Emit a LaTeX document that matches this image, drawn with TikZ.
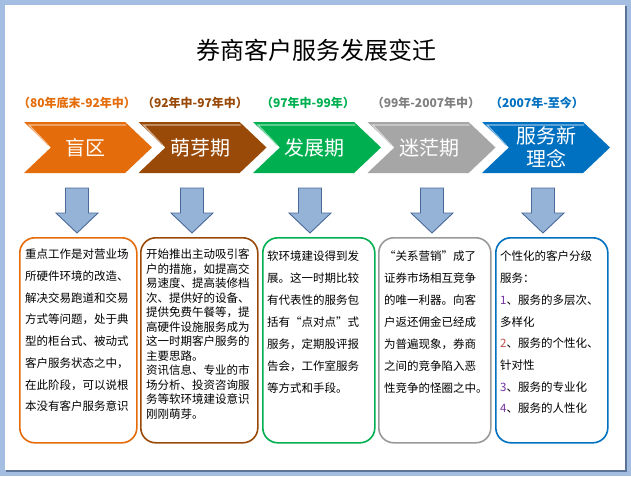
\documentclass[tikz,border=0pt]{standalone}
\usepackage{fontspec}
\setmainfont{Noto Sans CJK SC}
\usetikzlibrary{shapes.symbols}
\definecolor{orangeC}{HTML}{E46C0A}
\definecolor{brownC}{HTML}{9A4A08}
\definecolor{greenC}{HTML}{00B050}
\definecolor{grayC}{HTML}{A6A6A6}
\definecolor{grayL}{HTML}{808080}
\definecolor{blueC}{HTML}{0070C0}
\definecolor{arrowFill}{HTML}{95B3D7}
\definecolor{arrowLine}{HTML}{4A6A9A}
\definecolor{frameBlue}{HTML}{A3BEE0}
\definecolor{frameShade}{HTML}{5C7398}
\definecolor{numPurple}{HTML}{7030A0}
\definecolor{numOrange}{HTML}{C0504D}
\newcommand{\downblock}[1]{%
	\draw [ downarrow ] ({#1-11.5},188) -- ({#1+11.5},188) -- ({#1+11.5},213)
	-- ({#1+21},213) -- (#1,233) -- ({#1-21},213) -- ({#1-11.5},213) -- cycle;}
\newcommand{\bevel}[2]{%
	\draw [ #2!45!white, line width=1.2pt ] ({#1-40},145) -- ({#1-59},125)
	-- ({#1+38},125);}
\tikzset{
	chevron/.style = { signal, signal from=west, signal to=east,
		signal pointer angle=87, minimum width=128pt, minimum height=51pt,
		inner sep=0pt, fill=#1, text=white, align=center,
		font=\fontsize{20}{23}\selectfont },
	period/.style = { text=#1, inner sep=0pt,
		font=\bfseries\fontsize{12}{14}\selectfont },
	infobox/.style = { draw=#1, line width=1.6pt, rounded corners=15pt,
		minimum height=205pt, anchor=north west, inner sep=0pt },
	infotext/.style = { anchor=north west, align=left, inner sep=0pt,
		font=\fontsize{11.5}{21.7}\selectfont },
	downarrow/.style = { fill=arrowFill, draw=arrowLine, line width=0.9pt },
}

\begin{document}
\begin{tikzpicture}[x=1pt, y=-1pt]
	% slide frame
	\fill [ frameBlue ] (0,0) rectangle (631,476);
	\fill [ frameShade ] (6,6) rectangle (627,472);
	\fill [ white ] (5,5) rectangle (625,470);
	\useasboundingbox (0,0) rectangle (631,476);

	\node (title) at (316,50)
	{ \fontsize{24}{28}\selectfont 券商客户服务发展变迁 };

	% periods
	\node [ period=orangeC ] (p1) at (77,103) { （80年底末-92年中） };
	\node [ period=brownC ] (p2) at (195,103) { （92年中-97年中） };
	\node [ period=greenC ] (p3) at (308,103) { （97年中-99年） };
	\node [ period=grayL ] (p4) at (426,103) { （99年-2007年中） };
	\node [ period=blueC ] (p5) at (537,103) { （2007年-至今） };

	% stages
	\node [ chevron=orangeC ] (s1) at (88,147.5) { 盲区 };
	\node [ chevron=brownC ] (s2) at (202.5,147.5) { 萌芽期 };
	\node [ chevron=greenC ] (s3) at (317,147.5) { 发展期 };
	\node [ chevron=grayC ] (s4) at (431.5,147.5) { 迷茫期 };
	\node [ chevron=blueC ] (s5) at (546,147.5) { 服务新\\理念 };
	\bevel{88}{orangeC}
	\bevel{202.5}{brownC}
	\bevel{317}{greenC}
	\bevel{431.5}{grayC}
	\bevel{546}{blueC}

	\downblock{77}
	\downblock{192}
	\downblock{310}
	\downblock{432}
	\downblock{543}

	% descriptions
	\node [ infobox=orangeC, minimum width=117pt ] (b1) at (19,237) {};
	\node [ infobox=brownC, minimum width=117pt ] (b2) at (140,237) {};
	\node [ infobox=grayL!80!white, minimum width=112pt ] (b4) at (378,237) {};
	\node [ infobox=greenC, minimum width=112pt ] (b3) at (262,237) {};
	\node [ infobox=blueC, minimum width=112pt ] (b5) at (495,237) {};

	\node [ infotext ] (t1) at (25,249)
	{ 重点工作是对营业场\\所硬件环境的改造、\\解决交易跑道和交易\\
		方式等问题，处于典\\型的柜台式、被动式\\客户服务状态之中，\\
		在此阶段，可以说根\\本没有客户服务意识 };
	\node [ infotext, font=\fontsize{11.5}{14.5}\selectfont ] (t2) at (146,249)
	{ 开始推出主动吸引客\\户的措施，如提高交\\易速度、提高装修档\\
		次、提供好的设备、\\提供免费午餐等，提\\高硬件设施服务成为\\
		这一时期客户服务的\\主要思路。\\资讯信息、专业的市\\
		场分析、投资咨询服\\务等软环境建设意识\\刚刚萌芽。 };
	\node [ infotext, font=\fontsize{11.5}{22}\selectfont ] (t3) at (267,251)
	{ 软环境建设得到发\\展。这一时期比较\\有代表性的服务包\\
		括有“点对点”式\\服务，定期股评报\\告会，工作室服务\\
		等方式和手段。 };
	\node [ infotext, font=\fontsize{11.5}{22}\selectfont ] (t4) at (384,251)
	{ “关系营销”成了\\证券市场相互竞争\\的唯一利器。向客\\
		户返还佣金已经成\\为普遍现象，券商\\之间的竞争陷入恶\\
		性竞争的怪圈之中。 };
	\node [ infotext ] (t5) at (500,251)
	{ 个性化的客户分级\\服务：\\{\color{numPurple}1}、服务的多层次、\\
		多样化\\{\color{numOrange}2}、服务的个性化、\\针对性\\
		{\color{numPurple}3}、服务的专业化\\{\color{numPurple}4}、服务的人性化 };
\end{tikzpicture}
\end{document}
